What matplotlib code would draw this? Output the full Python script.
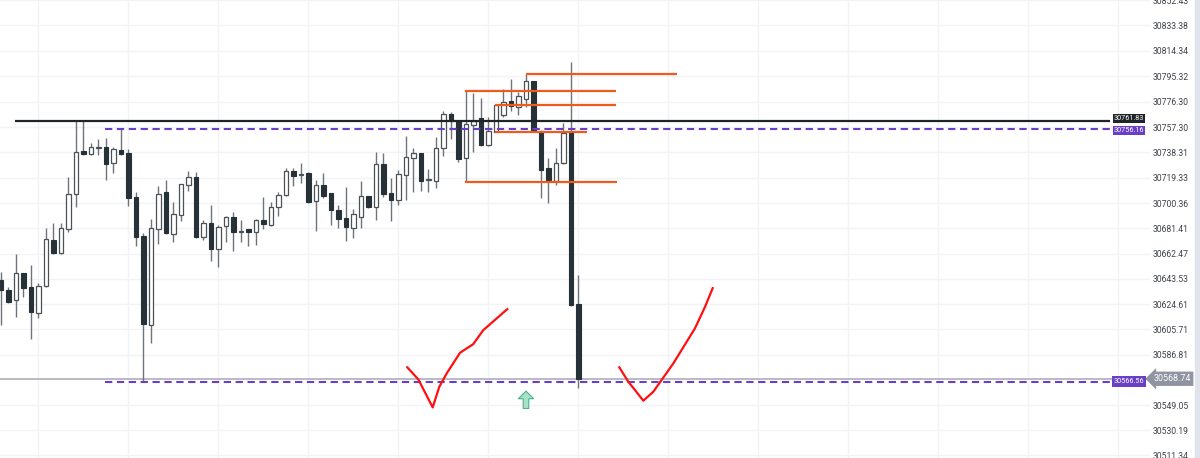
import numpy as np
import matplotlib
matplotlib.use("Agg")
import matplotlib.pyplot as plt
from matplotlib.patches import Rectangle
from matplotlib.transforms import blended_transform_factory

# candles (price units)
opens = [
    30642.6, 30635.1, 30627.6, 30647.8, 30637.3, 30617.9, 30638.1, 30672.5, 30662.8, 30680.7,
    30706.9, 30739.1, 30736.9, 30741.4, 30742.1, 30730.1, 30739.9, 30737.6, 30704.7, 30675.5,
    30608.9, 30680.7, 30708.4, 30677.0, 30691.2, 30713.7, 30719.7, 30674.8, 30685.2, 30665.8,
    30683.0, 30689.7, 30679.0, 30680.7, 30678.5, 30687.5, 30683.7, 30697.2, 30706.2, 30724.1,
    30721.5, 30722.6, 30701.7, 30713.7, 30707.7, 30694.9, 30689.0, 30681.5, 30689.7, 30705.4,
    30697.2, 30729.4, 30707.7, 30702.4, 30721.2, 30733.9, 30737.6, 30717.4, 30716.7, 30741.4,
    30766.8, 30761.5, 30733.9, 30758.6, 30763.8, 30743.6, 30753.6, 30766.0, 30776.5, 30772.0,
    30778.0, 30791.5, 30753.3, 30726.4, 30716.7, 30730.1, 30753.3, 30624.6]
highs = [
    30648.6, 30637.3, 30662.0, 30648.0, 30653.8, 30640.3, 30681.5, 30685.2, 30685.2, 30719.7,
    30761.8, 30761.8, 30745.1, 30748.1, 30748.8, 30742.1, 30756.2, 30740.6, 30708.4, 30677.7,
    30688.2, 30712.9, 30717.4, 30700.9, 30714.8, 30724.1, 30723.4, 30687.5, 30698.7, 30683.7,
    30690.5, 30693.5, 30687.5, 30681.0, 30688.2, 30704.7, 30700.9, 30708.4, 30726.4, 30726.4,
    30730.1, 30723.4, 30717.4, 30722.6, 30708.0, 30698.7, 30712.2, 30695.7, 30716.7, 30705.8,
    30738.4, 30737.6, 30718.9, 30724.9, 30750.3, 30741.4, 30738.0, 30725.6, 30749.6, 30769.0,
    30768.3, 30761.8, 30784.0, 30782.5, 30778.8, 30764.5, 30774.4, 30785.5, 30793.0, 30783.2,
    30796.7, 30791.8, 30754.8, 30733.9, 30741.4, 30760.1, 30805.7, 30646.3]
lows = [
    30608.9, 30625.4, 30614.9, 30629.9, 30598.4, 30614.2, 30637.3, 30662.0, 30662.3, 30678.5,
    30697.2, 30736.5, 30736.5, 30736.1, 30717.4, 30722.6, 30736.5, 30697.9, 30668.0, 30566.6,
    30595.4, 30669.5, 30677.3, 30671.0, 30686.7, 30709.2, 30674.4, 30672.5, 30656.8, 30652.3,
    30671.0, 30664.3, 30671.0, 30668.0, 30668.8, 30680.7, 30683.3, 30690.5, 30705.4, 30712.9,
    30715.2, 30700.5, 30679.2, 30703.9, 30683.7, 30681.5, 30671.8, 30674.0, 30681.5, 30696.8,
    30687.5, 30704.7, 30686.7, 30698.7, 30702.4, 30708.4, 30709.2, 30708.4, 30711.4, 30735.4,
    30748.1, 30730.9, 30716.1, 30738.4, 30743.2, 30743.2, 30753.2, 30764.5, 30769.0, 30766.0,
    30772.0, 30753.8, 30703.9, 30700.2, 30713.7, 30729.8, 30623.5, 30561.8]
closes = [
    30635.1, 30626.1, 30647.8, 30636.6, 30618.6, 30638.1, 30673.3, 30662.8, 30681.5, 30706.9,
    30738.4, 30736.9, 30742.1, 30742.1, 30729.4, 30740.6, 30736.9, 30703.9, 30674.8, 30609.7,
    30681.5, 30706.9, 30677.7, 30692.0, 30714.4, 30719.7, 30674.8, 30685.2, 30665.8, 30682.2,
    30689.7, 30678.5, 30679.6, 30678.5, 30687.5, 30684.5, 30697.2, 30706.2, 30724.1, 30720.4,
    30722.2, 30700.9, 30713.7, 30705.4, 30694.9, 30688.2, 30682.2, 30692.0, 30705.4, 30697.2,
    30729.4, 30706.9, 30702.4, 30721.9, 30734.6, 30737.6, 30716.7, 30717.9, 30741.4, 30766.8,
    30761.5, 30733.1, 30759.3, 30761.5, 30743.6, 30754.1, 30774.1, 30775.8, 30772.8, 30780.3,
    30791.5, 30754.1, 30724.9, 30717.4, 30730.1, 30752.6, 30623.9, 30568.74]

# price scale ticks
tick_values = [30852.43, 30833.38, 30814.34, 30795.32, 30776.30, 30757.30, 30738.31,
               30719.33, 30700.36, 30681.41, 30662.47, 30643.53, 30624.61, 30605.71,
               30586.81, 30549.05, 30530.19, 30511.34]

# drawn levels (price, start bar, end bar)
black_level = 30761.83
purple_top = 30756.16
purple_bottom = 30566.56
last_price = 30568.74
level_start = [1.9, 13.9, 13.9]
level_end = 147.9

orange_levels = [30796.7, 30784.0, 30774.05, 30753.55, 30716.1]
orange_start = [70.0, 61.9, 65.9, 65.9, 61.9]
orange_end = [90.1, 82.0, 82.0, 78.1, 82.1]

# hand drawn red ticks (bar index, price)
stroke1_x = [54.17, 55.64, 57.56, 58.44, 59.43, 61.2, 62.97, 64.31, 67.51]
stroke1_y = [30577.3, 30568.3, 30547.3, 30562.7, 30572.8, 30588.2, 30594.7, 30605.2, 30620.9]
stroke2_x = [82.44, 83.64, 84.53, 85.64, 86.97, 89.64, 92.53, 93.87, 94.89]
stroke2_y = [30577.3, 30566.5, 30560.3, 30552.3, 30559.0, 30580.2, 30606.5, 30622.6, 30636.6]

arrow_bar = 70
arrow_bottom = 30546.5
arrow_top = 30559.5

plt.rcParams['font.family'] = ['Roboto', 'DejaVu Sans']

fig = plt.figure(figsize=(12, 4.58), dpi=100)
ax = fig.add_axes([0, 0, 1150 / 1200, 1])
ax.set_xlim(-0.133, 153.2)
ax.set_ylim(30509.39, 30852.09)

# grid
for t in tick_values:
    ax.axhline(t, color='#f2f3f6', lw=1, zorder=0)
for gx in range(5, 160, 12):
    ax.axvline(gx, color='#f2f3f6', lw=1, zorder=0)

ax.axhline(last_price, color='#b2b5be', lw=1.3, zorder=1)

# candles
x = np.arange(len(opens))
for i in x:
    o, h, l, c = opens[i], highs[i], lows[i], closes[i]
    ax.vlines(i, l, h, color='#6f737a', lw=1, zorder=2)
    bottom = min(o, c)
    height = max(abs(c - o), 0.6)
    if c < o:
        ax.bar(i, height, bottom=bottom, width=0.66, color='#263238',
               edgecolor='#263238', lw=0.8, zorder=3)
    else:
        ax.bar(i, height, bottom=bottom, width=0.66, color='white',
               edgecolor='#4c5157', lw=0.9, zorder=3)

# levels
ax.hlines(black_level, level_start[0], level_end, color='#1f2429', lw=1.6, zorder=4)
ax.hlines([purple_top, purple_bottom], level_start[1], level_end, color='#6a3fc8',
          lw=1.5, linestyles=(0, (3.5, 2.2)), zorder=4)
for lv, s, e in zip(orange_levels, orange_start, orange_end):
    ax.hlines(lv, s, e, color='#f05a1a', lw=1.6, zorder=4)

ax.plot(stroke1_x, stroke1_y, color='#ff1010', lw=1.6, zorder=5)
ax.plot(stroke2_x, stroke2_y, color='#ff1010', lw=1.6, zorder=5)

ax.annotate('', xy=(arrow_bar, arrow_top), xytext=(arrow_bar, arrow_bottom),
            arrowprops=dict(arrowstyle='simple,head_length=0.55,head_width=1.1,tail_width=0.4',
                            fc='#a8e2c9', ec='#4db38a', lw=0.8, mutation_scale=10,
                            shrinkA=0, shrinkB=0),
            zorder=5)

# right price scale
ax.yaxis.tick_right()
ax.set_yticks(tick_values)
ax.set_yticklabels([f"{t:.2f}" for t in tick_values])
ax.tick_params(axis='y', length=0, pad=2, labelsize=6.2, labelcolor='#3d4148')
ax.tick_params(axis='x', bottom=False, labelbottom=False)
for s in ax.spines.values():
    s.set_visible(False)

# value tags
tr = blended_transform_factory(ax.transAxes, ax.transData)
tag_x = 1129 / 1150
ax.text(tag_x, black_level + 1.6, f"{black_level:.2f}", transform=tr, ha='center', va='center',
        fontsize=5.2, color='white', zorder=6,
        bbox=dict(boxstyle='square,pad=0.15', fc='#1f2429', ec='none'))
ax.text(tag_x, purple_top - 1.6, f"{purple_top:.2f}", transform=tr, ha='center', va='center',
        fontsize=5.2, color='white', zorder=6,
        bbox=dict(boxstyle='square,pad=0.15', fc='#6a3fc8', ec='none'))
ax.text(tag_x, purple_bottom, f"{purple_bottom:.2f}", transform=tr, ha='center', va='center',
        fontsize=5.2, color='white', zorder=7,
        bbox=dict(boxstyle='square,pad=0.3', fc='#6a3fc8', ec='none'))

tr2 = blended_transform_factory(fig.transFigure, ax.transData)
ax.text(1172 / 1200, last_price, f"{last_price:.2f}", transform=tr2, ha='center', va='center',
        fontsize=6.4, color='white', zorder=6, clip_on=False,
        bbox=dict(boxstyle='larrow,pad=0.3', fc='#9094a0', ec='none'))

fig.patches.append(Rectangle((1195 / 1200, 0), 5 / 1200, 1, transform=fig.transFigure,
                             color='#e0e3eb', zorder=0))

fig.savefig("out.png", dpi=100, facecolor='white')
